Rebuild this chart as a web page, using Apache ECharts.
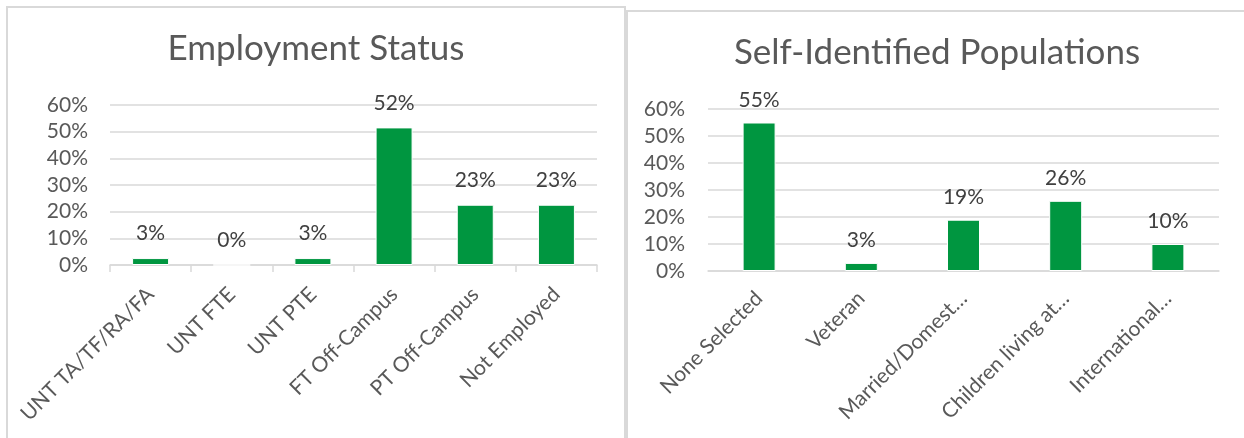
<!DOCTYPE html>
<html>
<head>
<meta charset="UTF-8">
<title>Employment Status / Self-Identified Populations</title>
<script src="https://cdn.jsdelivr.net/npm/echarts@6/dist/echarts.min.js"></script>
<style>
  html, body { margin: 0; padding: 0; background: #fff; }
  #main { width: 1244px; height: 438px; }
</style>
</head>
<body>
<div id="main"></div>
<script type="text/javascript">
// data
var empCategories = ['UNT TA/TF/RA/FA', 'UNT FTE', 'UNT PTE', 'FT Off-Campus', 'PT Off-Campus', 'Not Employed'];
var empValues = [0.026, 0, 0.026, 0.516, 0.226, 0.226];

var popCategories = ['None Selected', 'Veteran', 'Married/Domest\u2026', 'Children living at\u2026', 'International\u2026'];
var popValues = [0.55, 0.03, 0.19, 0.26, 0.10];

var yTicks = [0, 0.1, 0.2, 0.3, 0.4, 0.5, 0.6];

var font = 'Lato';
var green = '#009640';
var gridColor = '#d9d9d9';
var fs = 21;

function pct(v) { return Math.round(v * 100) + '%'; }

var myChart = echarts.init(document.getElementById('main'));

function yAxis(idx, margin) {
    return {
        type: 'value', gridIndex: idx,
        min: yTicks[0], max: yTicks[yTicks.length - 1], interval: yTicks[1] - yTicks[0],
        axisLine: { show: false }, axisTick: { show: false },
        axisLabel: { formatter: pct, color: '#595959', fontSize: fs, fontFamily: font, margin: margin },
        splitLine: { lineStyle: { color: gridColor, width: 1.5 } }
    };
}

var option = {
    animation: false,
    title: [
        { text: 'Employment Status', left: 316, top: 31, textAlign: 'center', padding: 0,
          textStyle: { fontFamily: font, fontSize: 35, fontWeight: 'normal', color: '#595959' } },
        { text: 'Self-Identified Populations', left: 937, top: 35, textAlign: 'center', padding: 0,
          textStyle: { fontFamily: font, fontSize: 35, fontWeight: 'normal', color: '#595959' } }
    ],
    graphic: [
        { type: 'rect', shape: { x: 7, y: 7, width: 618, height: 500 },
          style: { fill: 'none', stroke: gridColor, lineWidth: 2 }, silent: true },
        { type: 'rect', shape: { x: 627, y: 11, width: 700, height: 500 },
          style: { fill: 'none', stroke: gridColor, lineWidth: 2 }, silent: true }
    ],
    grid: [
        { left: 110, right: 647, top: 105, bottom: 173 },
        { left: 708, right: 25, top: 109, bottom: 167 }
    ],
    xAxis: [
        { type: 'category', gridIndex: 0, data: empCategories,
          axisLine: { lineStyle: { color: gridColor, width: 1.5 } },
          axisTick: { show: true, length: 7, lineStyle: { color: gridColor, width: 1.5 } },
          axisLabel: { rotate: 45, interval: 0, color: '#595959', fontSize: fs, fontFamily: font, margin: 26 } },
        { type: 'category', gridIndex: 1, data: popCategories,
          axisLine: { lineStyle: { color: gridColor, width: 1.5 } },
          axisTick: { show: false },
          axisLabel: { rotate: 45, interval: 0, color: '#595959', fontSize: fs, fontFamily: font, margin: 24 } }
    ],
    yAxis: [yAxis(0, 22), yAxis(1, 23)],
    series: [
        { type: 'bar', xAxisIndex: 0, yAxisIndex: 0, data: empValues, barWidth: 37,
          itemStyle: { color: green, borderColor: '#fff', borderWidth: 1 },
          label: { show: true, position: 'top', distance: 14, formatter: function (p) { return pct(p.value); },
                   color: '#404040', fontSize: fs, fontFamily: font } },
        { type: 'bar', xAxisIndex: 1, yAxisIndex: 1, data: popValues, barWidth: 33,
          itemStyle: { color: green, borderColor: '#fff', borderWidth: 1 },
          label: { show: true, position: 'top', distance: 12, formatter: function (p) { return pct(p.value); },
                   color: '#404040', fontSize: fs, fontFamily: font } }
    ]
};
myChart.setOption(option);
</script>
</body>
</html>
